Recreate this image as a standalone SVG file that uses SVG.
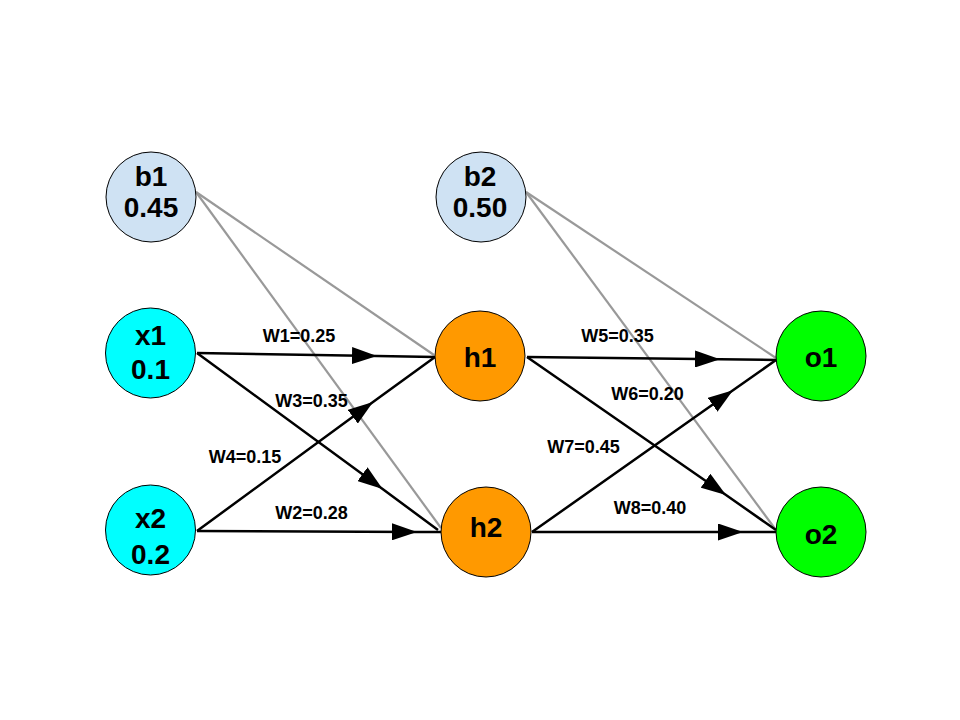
<svg xmlns="http://www.w3.org/2000/svg" width="960" height="720" viewBox="0 0 960 720">
<style>
.bias{fill:#cfe2f3;stroke:#000;stroke-width:1}
.inp{fill:#00ffff;stroke:#000;stroke-width:1}
.hid{fill:#ff9900;stroke:#000;stroke-width:1}
.out{fill:#00ff00;stroke:#000;stroke-width:1}
.nl{font-family:"Liberation Sans",Arial,sans-serif;font-weight:bold;font-size:28px;text-anchor:middle;fill:#000}
.wl{font-family:"Liberation Sans",Arial,sans-serif;font-weight:bold;font-size:18px;text-anchor:middle;fill:#000}
.g{stroke:#999999;stroke-width:2.2;fill:none}
.w{stroke:#000;stroke-width:2.5;fill:none;marker-mid:url(#ah)}
</style>
<defs>
<marker id="ah" markerUnits="userSpaceOnUse" markerWidth="25" markerHeight="17" refX="25" refY="8.5" orient="auto" viewBox="0 0 25 17">
<path d="M0,0 L25,8.5 L0,17 z" fill="#000"/>
</marker>
</defs>
<rect width="960" height="720" fill="#fff"/>
<g id="connectors">
<path class="g" d="M196,192 L434,355"/>
<path class="g" d="M196,192 L441,528"/>
<path class="g" d="M526,192 L776,358"/>
<path class="g" d="M526,192 L776,530"/>
<path class="w" d="M197,353 L377,356 L435,357"/>
<path class="w" d="M197,531 L417,531.9 L441,532"/>
<path class="w" d="M197,353 L382.6,489 L438,530"/>
<path class="w" d="M197,531 L373,402 L435,357"/>
<path class="w" d="M527,357 L720,359.3 L776,360"/>
<path class="w" d="M527,357 L726,495 L776,530"/>
<path class="w" d="M532,532 L733,390.3 L776,360"/>
<path class="w" d="M532,532 L743,532 L776,532"/>
<text class="wl" x="299" y="342">W1=0.25</text>
<text class="wl" x="311.5" y="407">W3=0.35</text>
<text class="wl" x="245" y="463">W4=0.15</text>
<text class="wl" x="311.5" y="519">W2=0.28</text>
<text class="wl" x="617.5" y="342">W5=0.35</text>
<text class="wl" x="647.5" y="400">W6=0.20</text>
<text class="wl" x="583.5" y="453">W7=0.45</text>
<text class="wl" x="650" y="514">W8=0.40</text>
</g>
<g id="b1"><circle class="bias" cx="151" cy="197" r="45"/><text class="nl" x="151" y="186">b1</text><text class="nl" x="151" y="217">0.45</text></g>
<g id="b2"><circle class="bias" cx="481" cy="197" r="45"/><text class="nl" x="480" y="186">b2</text><text class="nl" x="480" y="217">0.50</text></g>
<g id="x1"><circle class="inp" cx="150.5" cy="353" r="45"/><text class="nl" x="150.5" y="345">x1</text><text class="nl" x="150.5" y="379">0.1</text></g>
<g id="x2"><circle class="inp" cx="150.5" cy="530" r="45"/><text class="nl" x="150.5" y="528">x2</text><text class="nl" x="150.5" y="564">0.2</text></g>
<g id="h1"><circle class="hid" cx="480" cy="356" r="45"/><text class="nl" x="480" y="367">h1</text></g>
<g id="h2"><circle class="hid" cx="486" cy="532" r="45"/><text class="nl" x="486" y="537">h2</text></g>
<g id="o1"><circle class="out" cx="821" cy="356" r="45"/><text class="nl" x="821" y="367">o1</text></g>
<g id="o2"><circle class="out" cx="821" cy="532" r="45"/><text class="nl" x="821" y="544">o2</text></g>
</svg>
